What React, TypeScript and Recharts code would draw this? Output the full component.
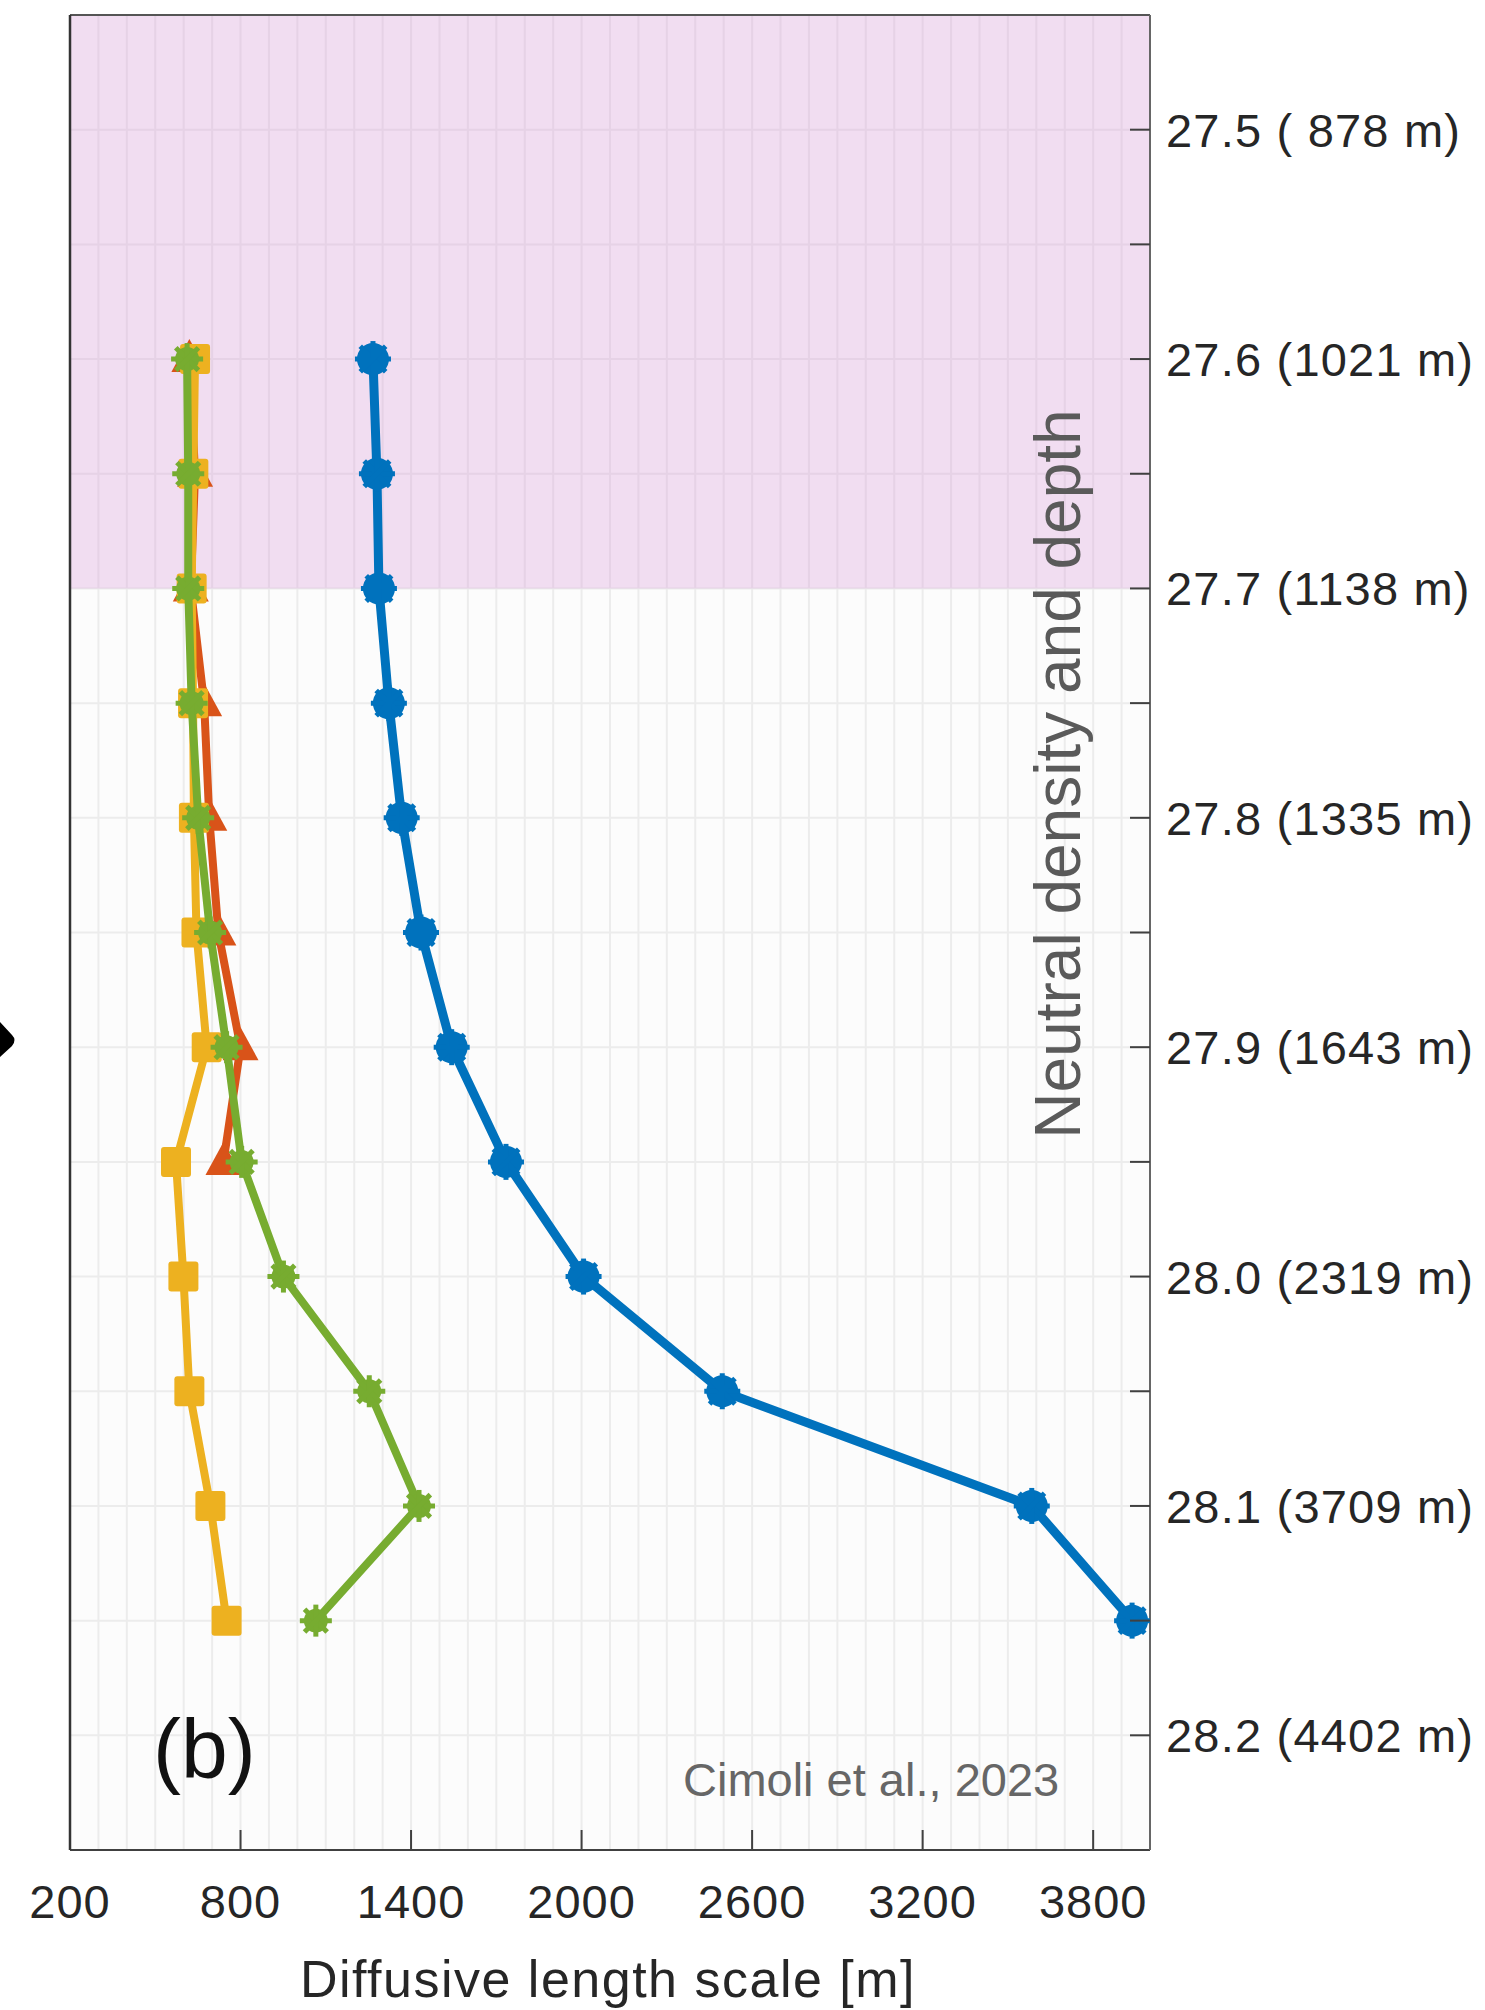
import React from 'react';
import { ScatterChart, Scatter, XAxis, YAxis, CartesianGrid, ReferenceArea } from 'recharts';

// neutral density levels where the profiles are sampled
const densityLevels = [27.6, 27.65, 27.7, 27.75, 27.8, 27.85, 27.9, 27.95, 28.0, 28.05, 28.1, 28.15];

// diffusive length scale [m] per profile
const blueValues = [1266, 1280, 1287, 1322, 1367, 1435, 1543, 1734, 2007, 2495, 3584, 3937];
const redValues = [620, 640, 625, 672, 690, 722, 800, 740];
const yellowValues = [640, 634, 628, 633, 636, 645, 681, 573, 599, 620, 694, 751];
const greenValues = [612, 616, 616, 628, 651, 693, 751, 804, 951, 1253, 1428, 1065];

const densityTicks = [27.5, 27.55, 27.6, 27.65, 27.7, 27.75, 27.8, 27.85, 27.9, 27.95, 28.0, 28.05, 28.1, 28.15, 28.2];
const depthLabels = [
  '27.5 ( 878 m)', '', '27.6 (1021 m)', '', '27.7 (1138 m)', '', '27.8 (1335 m)', '',
  '27.9 (1643 m)', '', '28.0 (2319 m)', '', '28.1 (3709 m)', '', '28.2 (4402 m)',
];
const lengthTicks = [
  200, 300, 400, 500, 600, 700, 800, 900, 1000, 1100, 1200, 1300, 1400, 1500, 1600, 1700, 1800, 1900, 2000,
  2100, 2200, 2300, 2400, 2500, 2600, 2700, 2800, 2900, 3000, 3100, 3200, 3300, 3400, 3500, 3600, 3700, 3800,
  3900, 4000,
];
const lengthLabels = ['200', '800', '1400', '2000', '2600', '3200', '3800'];
const topTicks = [800, 1400, 2000, 2600, 3200, 3800];

const FONT = '"Liberation Sans", Arial, Helvetica, sans-serif';
const AXIS = '#404040';
const TEXT = '#262626';

const toPoints = (vals: number[]) => vals.map((v, i) => ({ x: v, y: densityLevels[i] }));

const blueData = toPoints(blueValues);
const redData = toPoints(redValues);
const yellowData = toPoints(yellowValues);
const greenData = toPoints(greenValues);

const spokes = (cx: number, cy: number, r: number, color: string, w: number) =>
  [0, 45, 90, 135].map((a) => {
    const dx = Math.cos((a * Math.PI) / 180) * r;
    const dy = Math.sin((a * Math.PI) / 180) * r;
    return <line key={a} x1={cx - dx} y1={cy - dy} x2={cx + dx} y2={cy + dy} stroke={color} strokeWidth={w} />;
  });

const BlueDot = ({ cx, cy }: any) => (
  <g>
    <circle cx={cx} cy={cy} r={16} fill="#0072BD" />
    {spokes(cx, cy, 18, '#0072BD', 5)}
  </g>
);
const RedTri = ({ cx, cy }: any) => (
  <polygon points={`${cx},${cy - 20} ${cx - 18},${cy + 13} ${cx + 18},${cy + 13}`} fill="#D95319" />
);
const YellowSq = ({ cx, cy }: any) => (
  <rect x={cx - 15} y={cy - 15} width={30} height={30} rx={3} fill="#EDB120" />
);
const GreenStar = ({ cx, cy }: any) => (
  <g>
    <circle cx={cx} cy={cy} r={12} fill="#77AC30" />
    {spokes(cx, cy, 16, '#77AC30', 5)}
  </g>
);

const findIdx = (arr: number[], v: number) => arr.findIndex((t) => Math.abs(t - v) < 1e-6);

function RightTick({ x, y, payload }: any) {
  const label = depthLabels[findIdx(densityTicks, payload.value)];
  return (
    <g>
      <line x1={x - 20} x2={x} y1={y} y2={y} stroke={AXIS} strokeWidth={2} />
      {label ? (
        <text x={x + 16} y={y + 17} fontSize={47} letterSpacing={1.2} fill={TEXT} fontFamily={FONT}>
          {label}
        </text>
      ) : null}
    </g>
  );
}

function LeftTick({ x, y }: any) {
  return <line x1={x} x2={x + 20} y1={y} y2={y} stroke={AXIS} strokeWidth={2} />;
}

function BottomTick({ x, y, payload }: any) {
  const idx = lengthLabels.indexOf(String(payload.value));
  if (idx < 0) return <g />;
  return (
    <g>
      {idx > 0 && <line x1={x} x2={x} y1={y - 20} y2={y} stroke={AXIS} strokeWidth={2} />}
      <text x={x} y={y + 68} textAnchor="middle" fontSize={47} letterSpacing={1} fill={TEXT} fontFamily={FONT}>
        {lengthLabels[idx]}
      </text>
    </g>
  );
}

function TopTick({ x, y }: any) {
  return <line x1={x} x2={x} y1={y} y2={y + 20} stroke={AXIS} strokeWidth={2} />;
}

const xTitle = (props: any) => {
  const vb = props.viewBox;
  return (
    <text x={vb.x + vb.width / 2 - 2} y={vb.y + 147} textAnchor="middle" fontSize={52} letterSpacing={1.5}
      fill={TEXT} fontFamily={FONT}>
      Diffusive length scale [m]
    </text>
  );
};

const yTitle = (props: any) => {
  const vb = props.viewBox;
  const tx = vb.x - 70;
  const ty = vb.y + 759;
  return (
    <text x={tx} y={ty} transform={`rotate(-90, ${tx}, ${ty})`} textAnchor="middle" fontSize={64}
      fill="#5a5a5a" fontFamily={FONT}>
      Neutral density and depth
    </text>
  );
};

const annotations = (props: any) => {
  const vb = props.viewBox;
  const bottom = vb.y + vb.height;
  return (
    <g>
      <text x={153} y={bottom - 72} fontSize={84} fill="#111" fontFamily={FONT}>(b)</text>
      <text x={683} y={bottom - 54} fontSize={47} fill="#666" fontFamily={FONT}>Cimoli et al., 2023</text>
      <path d="M0,1022 L12,1035 Q17,1040 12,1046 L0,1057 Z" fill="#000" />
    </g>
  );
};

export default function App() {
  return (
    <div style={{ position: 'absolute', left: 0, top: 0, width: 1485, height: 2010, background: '#fff' }}>
      <ScatterChart width={1485} height={2010} margin={{ top: 0, right: 0, bottom: 0, left: 0 }}>
        <CartesianGrid stroke="#ececec" strokeWidth={2} fill="#fcfcfc" />
        <ReferenceArea y1={27.45} y2={27.7} fill="#d896d8" fillOpacity={0.3} stroke="none" />
        <XAxis
          type="number"
          dataKey="x"
          domain={[200, 4000]}
          ticks={lengthTicks}
          interval={0}
          allowDataOverflow
          height={160}
          tickSize={0}
          tickMargin={0}
          tick={BottomTick}
          axisLine={{ stroke: AXIS, strokeWidth: 2 }}
          tickLine={false}
          label={xTitle}
        />
        <XAxis
          xAxisId="top"
          orientation="top"
          type="number"
          domain={[200, 4000]}
          ticks={topTicks}
          interval={0}
          height={15}
          tickSize={0}
          tickMargin={0}
          tick={TopTick}
          axisLine={{ stroke: '#555', strokeWidth: 2 }}
          tickLine={false}
        />
        <YAxis
          orientation="right"
          type="number"
          dataKey="y"
          domain={[27.45, 28.25]}
          reversed
          ticks={densityTicks}
          interval={0}
          allowDataOverflow
          width={335}
          tickSize={0}
          tickMargin={0}
          tick={RightTick}
          axisLine={{ stroke: '#666', strokeWidth: 2 }}
          tickLine={false}
          label={yTitle}
        />
        <YAxis
          yAxisId="left"
          orientation="left"
          type="number"
          domain={[27.45, 28.25]}
          reversed
          ticks={densityTicks}
          interval={0}
          width={70}
          tickSize={0}
          tickMargin={0}
          tick={LeftTick}
          axisLine={{ stroke: '#333', strokeWidth: 2.5 }}
          tickLine={false}
          label={annotations}
        />
        <Scatter data={blueData} shape={BlueDot} line={{ stroke: '#0072BD', strokeWidth: 9 }} isAnimationActive={false} />
        <Scatter data={redData} shape={RedTri} line={{ stroke: '#D95319', strokeWidth: 8 }} isAnimationActive={false} />
        <Scatter data={yellowData} shape={YellowSq} line={{ stroke: '#EDB120', strokeWidth: 8 }} isAnimationActive={false} />
        <Scatter data={greenData} shape={GreenStar} line={{ stroke: '#77AC30', strokeWidth: 8 }} isAnimationActive={false} />
      </ScatterChart>
    </div>
  );
}
